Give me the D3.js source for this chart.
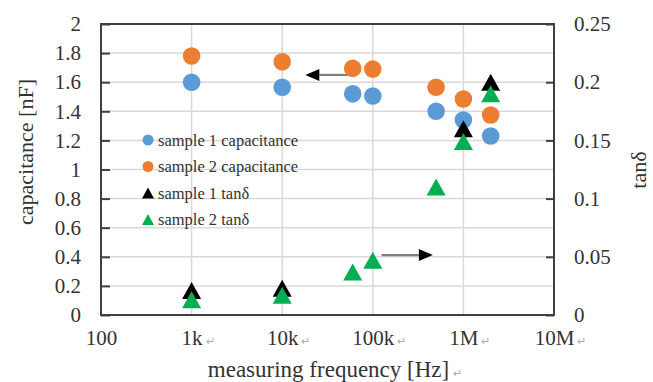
<!DOCTYPE html>
<html>
<head>
<meta charset="utf-8">
<script src="https://cdn.jsdelivr.net/npm/d3@7"></script>
<style>
  html, body { margin: 0; padding: 0; background: #fff; }
  svg { display: block; font-family: "Liberation Serif", "Times New Roman", serif; }
</style>
</head>
<body>
<svg id="chart" width="653" height="382"></svg>
<script>
// Measurement frequencies [Hz]
const freqCap = [1e3, 1e4, 6e4, 1e5, 5e5, 1e6, 2e6];
// Capacitance [nF]
const sample1Cap = [1.60, 1.565, 1.52, 1.505, 1.40, 1.34, 1.23];
const sample2Cap = [1.78, 1.74, 1.695, 1.69, 1.565, 1.485, 1.375];
// tan delta
const freqTan1 = [1e3, 1e4, 1e6, 2e6];
const sample1Tan = [0.021, 0.023, 0.160, 0.200];
const freqTan2 = [1e3, 1e4, 6e4, 1e5, 5e5, 1e6, 2e6];
const sample2Tan = [0.013, 0.017, 0.037, 0.047, 0.110, 0.149, 0.190];

// Axis ticks
const xTicks = [1e2, 1e3, 1e4, 1e5, 1e6, 1e7];
const xTickLabels = ["100", "1k", "10k", "100k", "1M", "10M"];
const yLeftTicks = [0, 0.2, 0.4, 0.6, 0.8, 1, 1.2, 1.4, 1.6, 1.8, 2];
const yRightTicks = [0, 0.05, 0.1, 0.15, 0.2, 0.25];

const seriesNames = ["sample 1 capacitance", "sample 2 capacitance", "sample 1 tanδ", "sample 2 tanδ"];
const seriesColors = ["#5b9bd5", "#ed7d31", "#000000", "#00b050"];

const textColor = "#333";
const svg = d3.select("#chart");
const plot = { left: 101, right: 554, top: 24, bottom: 315 };

const x = d3.scaleLog().domain([1e2, 1e7]).range([plot.left, plot.right]);
const yL = d3.scaleLinear().domain([0, 2]).range([plot.bottom, plot.top]);
const yR = d3.scaleLinear().domain([0, 0.25]).range([plot.bottom, plot.top]);

// Gridlines
const grid = svg.append("g").attr("stroke", "#d9d9d9").attr("stroke-width", 1.5);
grid.selectAll("line.h").data(d3.range(0, 2.001, 0.2)).join("line")
  .attr("x1", plot.left).attr("x2", plot.right)
  .attr("y1", d => yL(d)).attr("y2", d => yL(d));
grid.selectAll("line.v").data(xTicks).join("line")
  .attr("x1", d => x(d)).attr("x2", d => x(d))
  .attr("y1", plot.top).attr("y2", plot.bottom);

// Left axis: inside ticks, labels on the left
const axisLeft = d3.axisLeft(yL).tickValues(yLeftTicks).tickSizeInner(-9).tickSizeOuter(0)
  .tickPadding(20).tickFormat(d => d3.format("~g")(d));
const gL = svg.append("g").attr("transform", `translate(${plot.left},0)`).call(axisLeft);

// Right axis
const axisRight = d3.axisRight(yR).tickValues(yRightTicks).tickSizeInner(-8).tickSizeOuter(0)
  .tickPadding(20).tickFormat(d => d3.format("~g")(d));
const gR = svg.append("g").attr("transform", `translate(${plot.right},0)`).call(axisRight);

// Bottom axis
const axisBottom = d3.axisBottom(x).tickValues(xTicks).tickSize(0).tickPadding(15)
  .tickFormat((d, i) => xTickLabels[i]);
const gB = svg.append("g").attr("transform", `translate(0,${plot.bottom})`).call(axisBottom);

[gL, gR, gB].forEach(g => {
  g.select(".domain").remove();
  g.selectAll(".tick line").attr("stroke", "#404040").attr("stroke-width", 2);
  g.selectAll(".tick text").attr("font-family", "Liberation Serif, serif")
    .attr("font-size", 21).attr("fill", textColor);
});
gB.selectAll(".tick text").attr("dy", "0.71em");
// Word paragraph marks after the frequency labels
gB.selectAll(".tick text").filter((d, i) => i > 0).each(function() {
  const t = d3.select(this);
  const label = t.text();
  t.text(null);
  t.append("tspan").text(label);
  t.append("tspan").attr("font-size", 11).attr("fill", "#aaa").attr("dx", 3).text("↵");
}).attr("text-anchor", "start").attr("transform", function() {
  const w = this.firstChild.getComputedTextLength();
  return `translate(${-w / 2},0)`;
});

// Plot frame
svg.append("rect").attr("x", plot.left).attr("y", plot.top)
  .attr("width", plot.right - plot.left).attr("height", plot.bottom - plot.top)
  .attr("fill", "none").attr("stroke", "#404040").attr("stroke-width", 2);

// Arrows pointing to the corresponding axis
const arrowDefs = [
  { y: yL(1.65), from: x(5.3e4), to: x(1.8e4) },
  { y: yR(0.0515), from: x(1.25e5), to: x(4.6e5) }
];
arrowDefs.forEach(a => {
  const dir = Math.sign(a.to - a.from);
  const headLen = 14;
  svg.append("line").attr("x1", a.from).attr("x2", a.to - dir * headLen)
    .attr("y1", a.y).attr("y2", a.y).attr("stroke", "#7f7f7f").attr("stroke-width", 2.2);
  svg.append("path").attr("fill", "#000")
    .attr("d", `M${a.to},${a.y} L${a.to - dir * headLen},${a.y - 6} L${a.to - dir * headLen},${a.y + 6} Z`);
});

// Markers
const tri = (cx, cy, w, h) => `M${cx},${cy - h / 2} L${cx + w / 2},${cy + h / 2} L${cx - w / 2},${cy + h / 2} Z`;

svg.append("g").selectAll("circle").data(d3.zip(freqCap, sample1Cap)).join("circle")
  .attr("cx", d => x(d[0])).attr("cy", d => yL(d[1])).attr("r", 8.8).attr("fill", seriesColors[0]);
svg.append("g").selectAll("circle").data(d3.zip(freqCap, sample2Cap)).join("circle")
  .attr("cx", d => x(d[0])).attr("cy", d => yL(d[1])).attr("r", 8.8).attr("fill", seriesColors[1]);
svg.append("g").selectAll("path").data(d3.zip(freqTan1, sample1Tan)).join("path")
  .attr("d", d => tri(x(d[0]), yR(d[1]), 19, 17)).attr("fill", seriesColors[2]);
svg.append("g").selectAll("path").data(d3.zip(freqTan2, sample2Tan)).join("path")
  .attr("d", d => tri(x(d[0]), yR(d[1]), 19, 17)).attr("fill", seriesColors[3]);

// Legend
const legend = svg.append("g").attr("transform", "translate(148,140)");
seriesNames.forEach((name, i) => {
  const row = legend.append("g").attr("transform", `translate(0,${i * 26.5})`);
  if (i < 2) row.append("circle").attr("r", 5.5).attr("fill", seriesColors[i]);
  else row.append("path").attr("d", tri(0, 0, 12, 11)).attr("fill", seriesColors[i]);
  row.append("text").attr("x", 10).attr("dy", "0.35em").attr("font-size", 16.5)
    .attr("fill", textColor).text(name);
});

// Axis titles
svg.append("text").attr("transform", "translate(25,152) rotate(-90)")
  .attr("text-anchor", "middle").attr("dy", "0.35em").attr("font-size", 22).attr("fill", textColor)
  .text("capacitance [nF]");
svg.append("text").attr("transform", "translate(638,170) rotate(-90)")
  .attr("text-anchor", "middle").attr("dy", "0.35em").attr("font-size", 22).attr("fill", textColor)
  .text("tanδ");
const xt = svg.append("text").attr("x", 335).attr("y", 377).attr("text-anchor", "middle")
  .attr("font-size", 23).attr("fill", textColor);
xt.append("tspan").text("measuring frequency [Hz]");
xt.append("tspan").attr("font-size", 11).attr("fill", "#aaa").attr("dx", 4).text("↵");
</script>
</body>
</html>
